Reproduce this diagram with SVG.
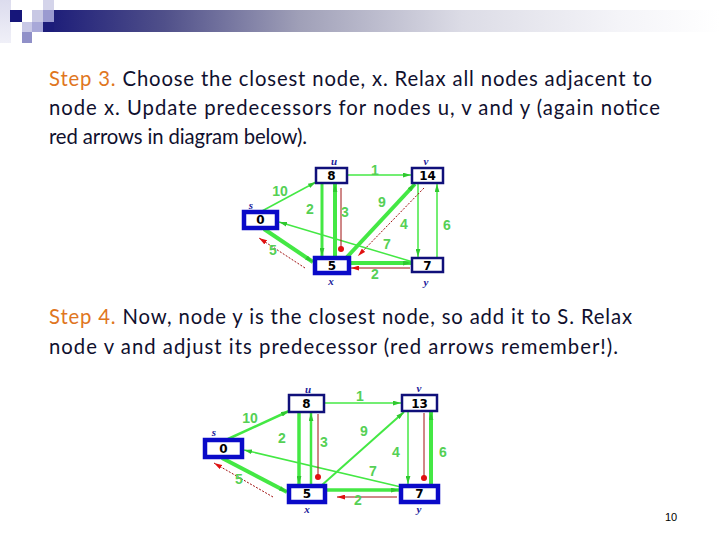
<svg xmlns="http://www.w3.org/2000/svg" width="720" height="540" viewBox="0 0 720 540">
<defs>
<linearGradient id="bar" x1="43" y1="0" x2="720" y2="0" gradientUnits="userSpaceOnUse">
<stop offset="0" stop-color="#1a1a78"/>
<stop offset="0.18" stop-color="#50508a"/>
<stop offset="0.38" stop-color="#a0a0b8"/>
<stop offset="0.62" stop-color="#dcdce6"/>
<stop offset="0.85" stop-color="#f4f4f8"/>
<stop offset="1" stop-color="#ffffff"/>
</linearGradient>
<linearGradient id="pale" x1="0" y1="0" x2="0" y2="1">
<stop offset="0" stop-color="#dcdcee"/>
<stop offset="1" stop-color="#f0f0f8"/>
</linearGradient>
<marker id="ag" viewBox="0 0 10 6" refX="10" refY="3" markerWidth="8" markerHeight="5" markerUnits="userSpaceOnUse" orient="auto">
<path d="M0,0 L10,3 L0,6 z" fill="#2fc82f"/>
</marker>
<marker id="ar" viewBox="0 0 10 6" refX="10" refY="3" markerWidth="8" markerHeight="5" markerUnits="userSpaceOnUse" orient="auto">
<path d="M0,0 L10,3 L0,6 z" fill="#e01010"/>
</marker>
<marker id="rd" viewBox="0 0 8 8" refX="4" refY="4" markerWidth="6" markerHeight="6" markerUnits="userSpaceOnUse" orient="auto">
<circle cx="4" cy="4" r="4" fill="#e01010"/>
</marker>
</defs>
<style>
.txt{font-family:Lato,"Open Sans","Liberation Sans",sans-serif;font-size:20.3px;fill:#10102e}
.step{fill:#e0761e}
.g{stroke:#44e844;fill:none;marker-end:url(#ag)}
.r{stroke:#a01010;fill:none;stroke-width:1}
.rd{stroke-dasharray:2 1.5}
.ew{font-family:"Liberation Sans",Arial,sans-serif;font-weight:bold;font-size:14px;fill:#55d055;text-anchor:middle}
.box{fill:#ffffff;stroke:#10107a;stroke-width:2.5}
.boxk{fill:#ffffff;stroke:#0a0ac8;stroke-width:4.5}
.val{font-family:"DejaVu Sans",sans-serif;font-weight:bold;font-size:12px;fill:#000;text-anchor:middle}
.nm{font-family:"Liberation Serif",serif;font-style:italic;font-weight:bold;font-size:11px;fill:#1a1a9a;text-anchor:middle}
.pg{font-family:"Liberation Sans",Arial,sans-serif;font-size:11px;fill:#000;text-anchor:middle}
</style>
<rect width="720" height="540" fill="#ffffff"/>
<g id="header">
<rect x="0" y="0" width="11" height="43" fill="url(#pale)"/>
<rect x="43" y="0" width="11" height="10" fill="#d4d4ea"/>
<rect x="54" y="10" width="666" height="22" fill="url(#bar)"/>
<rect x="43" y="22" width="11" height="10" fill="#1c1c7a"/>
<rect x="10" y="10" width="12" height="12" fill="#16167a"/>
<rect x="32" y="10" width="11" height="12" fill="#c8c8e4"/>
<rect x="43" y="10" width="11" height="12" fill="#9a9ad0"/>
<rect x="22" y="22" width="10" height="10" fill="#c8c8e6"/>
<rect x="32" y="22" width="11" height="10" fill="#a8a8d8"/>
<rect x="22" y="32" width="10" height="11" fill="#9090c8"/>
</g>
<g id="text-step3">
<text class="txt" x="49" y="86" textLength="603" lengthAdjust="spacing"><tspan class="step">Step 3.</tspan> Choose the closest node, x. Relax all nodes adjacent to</text>
<text class="txt" x="49" y="115" textLength="611" lengthAdjust="spacing">node x. Update predecessors for nodes u, v and y (again notice</text>
<text class="txt" x="49" y="144" textLength="258" lengthAdjust="spacing">red arrows in diagram below).</text>
</g>
<g id="text-step4">
<text class="txt" x="49" y="324" textLength="583" lengthAdjust="spacing"><tspan class="step">Step 4.</tspan> Now, node y is the closest node, so add it to S. Relax</text>
<text class="txt" x="49" y="354" textLength="569" lengthAdjust="spacing">node v and adjust its predecessor (red arrows remember!).</text>
</g>
<g id="connectors-1">
<line class="g" x1="347" y1="175" x2="411" y2="175" stroke-width="1.5"/>
<line class="g" x1="262" y1="211" x2="316" y2="182" stroke-width="1.5"/>
<line class="g" x1="322" y1="183" x2="322" y2="256" stroke-width="3"/>
<line class="g" x1="335" y1="257" x2="335" y2="184" stroke-width="4"/>
<line class="g" x1="347" y1="257" x2="415" y2="184" stroke-width="4"/>
<line class="g" x1="418" y1="183" x2="418" y2="257" stroke-width="1.5"/>
<line class="g" x1="437" y1="258" x2="437" y2="184" stroke-width="1.5"/>
<line class="g" x1="413" y1="262" x2="279" y2="222" stroke-width="1.5"/>
<line class="g" x1="264" y1="229" x2="313" y2="262" stroke-width="4"/>
<line class="g" x1="350" y1="263" x2="411" y2="263" stroke-width="4"/>
<line class="r" x1="341" y1="188" x2="341" y2="249" marker-end="url(#rd)"/>
<line class="r rd" x1="424" y1="188" x2="358" y2="256" marker-end="url(#ar)"/>
<line class="r rd" x1="305" y1="268" x2="259" y2="238" marker-end="url(#ar)"/>
<line class="r" x1="410" y1="268" x2="351" y2="268" stroke-width="1.3" marker-end="url(#ar)"/>
<text class="ew" x="375" y="175">1</text>
<text class="ew" x="280" y="196">10</text>
<text class="ew" x="310" y="214">2</text>
<text class="ew" x="345" y="217">3</text>
<text class="ew" x="382" y="207">9</text>
<text class="ew" x="404" y="229">4</text>
<text class="ew" x="447" y="230">6</text>
<text class="ew" x="387" y="249">7</text>
<text class="ew" x="273" y="255">5</text>
<text class="ew" x="375" y="279">2</text>
</g>
<g id="n1-u"><text class="nm" x="334" y="165">u</text><rect class="box" x="316" y="168" width="31" height="15"/><text class="val" x="331.5" y="180">8</text></g>
<g id="n1-v"><text class="nm" x="426" y="165">v</text><rect class="box" x="412" y="168" width="31" height="15"/><text class="val" x="427.5" y="180">14</text></g>
<g id="n1-s"><text class="nm" x="251" y="209">s</text><rect class="boxk" x="244" y="212" width="33" height="16"/><text class="val" x="260.5" y="224">0</text></g>
<g id="n1-x"><rect class="boxk" x="315" y="258" width="34" height="15"/><text class="val" x="332" y="270">5</text><text class="nm" x="331" y="285">x</text></g>
<g id="n1-y"><rect class="box" x="412" y="258" width="31" height="14"/><text class="val" x="427.5" y="269.5">7</text><text class="nm" x="426" y="286">y</text></g>
<g id="connectors-2">
<line class="g" x1="324" y1="403" x2="401" y2="403" stroke-width="1.5"/>
<line class="g" x1="228" y1="439" x2="289" y2="411" stroke-width="2.5"/>
<line class="g" x1="299" y1="412" x2="299" y2="484" stroke-width="3.5"/>
<line class="g" x1="311" y1="485" x2="311" y2="413" stroke-width="2.5"/>
<line class="g" x1="322" y1="485" x2="404" y2="412" stroke-width="2"/>
<line class="g" x1="408" y1="411" x2="408" y2="484" stroke-width="1.5"/>
<line class="g" x1="431" y1="485" x2="431" y2="412" stroke-width="4"/>
<line class="g" x1="401" y1="487" x2="244" y2="450" stroke-width="1.5"/>
<line class="g" x1="222" y1="458" x2="287" y2="492" stroke-width="4"/>
<line class="g" x1="326" y1="490" x2="399" y2="490" stroke-width="3.5"/>
<line class="r" x1="318" y1="414" x2="318" y2="477" marker-end="url(#rd)"/>
<line class="r" x1="424" y1="413" x2="424" y2="478" stroke-width="1.5" marker-end="url(#rd)"/>
<line class="r rd" x1="273" y1="497" x2="214" y2="463" marker-end="url(#ar)"/>
<line class="r" x1="397" y1="497" x2="337" y2="497" stroke-width="1.3" marker-end="url(#ar)"/>
<text class="ew" x="360" y="401">1</text>
<text class="ew" x="250" y="423">10</text>
<text class="ew" x="282" y="443">2</text>
<text class="ew" x="324" y="447">3</text>
<text class="ew" x="364" y="436">9</text>
<text class="ew" x="396" y="457">4</text>
<text class="ew" x="443" y="457">6</text>
<text class="ew" x="373" y="476">7</text>
<text class="ew" x="239" y="484">5</text>
<text class="ew" x="358" y="505">2</text>
</g>
<g id="n2-u"><text class="nm" x="308" y="393">u</text><rect class="box" x="289" y="395" width="35" height="17"/><text class="val" x="306.5" y="408">8</text></g>
<g id="n2-v"><text class="nm" x="419" y="392">v</text><rect class="box" x="402" y="395" width="35" height="16"/><text class="val" x="419.5" y="407.5">13</text></g>
<g id="n2-s"><text class="nm" x="214" y="436">s</text><rect class="boxk" x="205" y="440" width="37" height="17"/><text class="val" x="223.5" y="453">0</text></g>
<g id="n2-x"><rect class="boxk" x="289" y="486" width="36" height="16"/><text class="val" x="307" y="498">5</text><text class="nm" x="307" y="513">x</text></g>
<g id="n2-y"><rect class="boxk" x="401" y="486" width="37" height="16"/><text class="val" x="419.5" y="498">7</text><text class="nm" x="419" y="513">y</text></g>
<text class="pg" x="671" y="521">10</text>
</svg>
